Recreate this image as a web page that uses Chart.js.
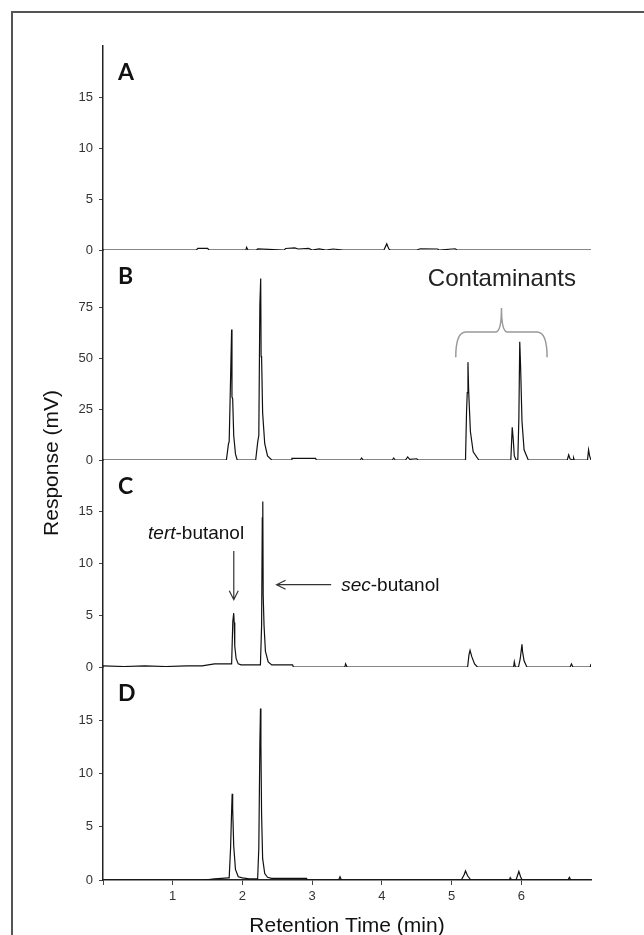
<!DOCTYPE html>
<html lang="en">
<head>
<meta charset="UTF-8">
<title>Chromatograms A-D</title>
<script src="https://cdn.jsdelivr.net/npm/chart.js@4.4.1/dist/chart.umd.min.js"></script>
<style>
  body { margin: 0; background: #fff; }
  #wrap { position: relative; width: 644px; height: 935px; overflow: hidden; }
  #frame { position: absolute; left: 11px; top: 11px; width: 700px; height: 1000px; border: 2px solid #555; }
  canvas { position: absolute; left: 0; top: 0; }
</style>
</head>
<body>
<div id="wrap">
  <div id="frame"></div>
  <canvas id="gc" width="644" height="935"></canvas>
</div>
<script>
// retention time (min) / response (mV), one pair per panel
const aTime = [0, 1.34, 1.36, 1.5, 1.52, 2.05, 2.06, 2.08, 2.2, 2.22, 2.6, 2.62, 2.75, 2.8, 2.95, 3.0, 3.1, 3.2, 3.3, 3.45, 4.03, 4.07, 4.1, 4.12, 4.5, 4.55, 4.8, 4.82, 5.05, 5.08, 7];
const aResp = [0, 0, 0.15, 0.15, 0, 0, 0.25, 0, 0, 0.1, 0, 0.15, 0.2, 0.1, 0.15, 0, 0.1, 0, 0.1, 0, 0, 0.6, 0.1, 0, 0, 0.12, 0.1, 0, 0.12, 0, 0];

const bTime = [0, 1.77, 1.80, 1.81, 1.83, 1.845, 1.85, 1.86, 1.875, 1.90, 1.925, 2.19, 2.22, 2.235, 2.25, 2.262, 2.268, 2.275, 2.29, 2.32, 2.36, 2.42, 2.70, 2.71, 3.05, 3.06, 3.69, 3.71, 3.73, 4.15, 4.17, 4.19, 4.34, 4.37, 4.40, 4.5, 4.52, 5.20, 5.215, 5.225, 5.235, 5.245, 5.27, 5.31, 5.39, 5.85, 5.87, 5.885, 5.9, 5.925, 5.95, 5.965, 5.978, 5.99, 6.01, 6.04, 6.1, 6.66, 6.68, 6.70, 6.745, 6.75, 6.76, 6.95, 6.965, 6.98, 7];
const bResp = [0, 0, 8, 9, 40, 64, 31, 30, 12, 3, 0, 0, 9, 12, 76, 89, 51, 50, 23, 8, 2, 0, 0, 0.8, 0.8, 0, 0, 1, 0, 0, 1, 0, 0, 1.5, 0.3, 0.6, 0, 0, 24, 33, 48, 34, 14, 4, 0, 0, 16, 10, 2, 0, 0, 20, 58, 46, 19, 5, 0, 0, 2.5, 0.5, 0, 1, 0, 0, 5, 2, 0];

const cTime = [0, 0.3, 0.6, 0.9, 1.2, 1.42, 1.6, 1.8, 1.845, 1.862, 1.875, 1.882, 1.89, 1.91, 1.94, 1.98, 2.2, 2.258, 2.275, 2.285, 2.292, 2.298, 2.31, 2.33, 2.37, 2.42, 2.72, 2.73, 3.47, 3.48, 3.50, 5.23, 5.25, 5.265, 5.29, 5.33, 5.37, 5.89, 5.9, 5.915, 5.96, 5.985, 6.01, 6.018, 6.04, 6.08, 6.70, 6.72, 6.74, 6.99, 7];
const cResp = [0.1, 0.05, 0.1, 0.05, 0.1, 0.1, 0.3, 0.3, 0.3, 4.4, 5.2, 4.3, 2, 0.8, 0.3, 0.2, 0.2, 0.2, 4, 14.4, 16, 6.9, 4, 1.5, 0.5, 0.2, 0.2, 0, 0, 0.3, 0, 0, 1.2, 1.6, 1, 0.3, 0, 0, 0.5, 0, 0, 0.8, 2.2, 1.5, 0.6, 0, 0, 0.3, 0, 0, 0.3];

const dTime = [0, 1.45, 1.6, 1.7, 1.8, 1.81, 1.83, 1.845, 1.853, 1.86, 1.875, 1.9, 1.94, 2.0, 2.1, 2.218, 2.235, 2.25, 2.259, 2.265, 2.275, 2.29, 2.32, 2.36, 2.42, 2.92, 2.93, 3.38, 3.4, 3.42, 5.14, 5.18, 5.2, 5.23, 5.276, 5.83, 5.84, 5.85, 5.924, 5.945, 5.965, 5.99, 6.012, 6.67, 6.69, 6.71, 7];
const dResp = [0, 0, 0.1, 0.15, 0.2, 0.2, 3, 6.5, 8.1, 6.7, 3.2, 1, 0.3, 0.2, 0.1, 0.1, 3, 12.7, 16.1, 12.8, 6.1, 2, 0.6, 0.25, 0.15, 0.15, 0, 0, 0.3, 0, 0, 0.5, 0.85, 0.4, 0, 0, 0.2, 0, 0, 0.4, 0.8, 0.3, 0, 0, 0.25, 0, 0];

const xTicks = [0, 1, 2, 3, 4, 5, 6];
const yTicksA = [0, 5, 10, 15];
const yTicksB = [0, 25, 50, 75];
const yTicksC = [0, 5, 10, 15];
const yTicksD = [0, 5, 10, 15];
const yMax = [20, 103, 20, 20];
const panelNames = ['A', 'B', 'C', 'D'];

const tickFont = { family: "'Liberation Sans', Arial, sans-serif", size: 13 };

function pts(t, r) {
    return t.map((v, i) => ({ x: v, y: r[i] }));
}

function trace(t, r, axis) {
    return { data: pts(t, r), yAxisID: axis, borderColor: '#111', borderWidth: 1.2,
             pointRadius: 0, tension: 0, fill: false };
}

function yScale(ticks, max, weight) {
    return {
        type: 'linear', position: 'left', stack: 'panels', stackWeight: weight,
        min: 0, max: max,
        afterBuildTicks: s => { s.ticks = ticks.map(v => ({ value: v })); },
        afterFit: s => { s.width = 45; },
        grid: { display: true, drawOnChartArea: false, drawTicks: true, tickLength: 4, color: '#444' },
        border: { display: true, color: '#222', width: 1.5 },
        ticks: { font: tickFont, color: '#333', padding: 6 }
    };
}

// letters, captions, arrows, brace, axis titles
const notes = {
    id: 'notes',
    afterDraw(chart) {
        const ctx = chart.ctx;
        const x = chart.scales.x;
        const sc = chart.scales;
        const area = chart.chartArea;
        ctx.save();
        ctx.fillStyle = '#111';
        ctx.textAlign = 'left';
        ctx.textBaseline = 'alphabetic';
        ctx.font = "bold 23px Lato, 'DejaVu Sans', sans-serif";
        ['yA', 'yB', 'yC', 'yD'].forEach((id, i) => {
            ctx.fillText(panelNames[i], area.left + 15, sc[id].top + 34);
        });

        // Contaminants + brace
        ctx.font = "24px 'Liberation Sans', Arial, sans-serif";
        ctx.fillStyle = '#222';
        ctx.fillText('Contaminants', x.getPixelForValue(4.66), sc.yB.getPixelForValue(85.5));
        const bx0 = x.getPixelForValue(5.06), bx1 = x.getPixelForValue(6.37), bxm = x.getPixelForValue(5.716);
        const by0 = sc.yB.getPixelForValue(50.4), by1 = sc.yB.getPixelForValue(62.8), by2 = sc.yB.getPixelForValue(74.6);
        ctx.strokeStyle = '#999';
        ctx.lineWidth = 1.5;
        ctx.beginPath();
        ctx.moveTo(bx0, by0);
        ctx.quadraticCurveTo(bx0, by1, bx0 + 10, by1);
        ctx.lineTo(bxm - 6, by1);
        ctx.quadraticCurveTo(bxm, by1, bxm, by2);
        ctx.quadraticCurveTo(bxm, by1, bxm + 6, by1);
        ctx.lineTo(bx1 - 10, by1);
        ctx.quadraticCurveTo(bx1, by1, bx1, by0);
        ctx.stroke();

        // tert-butanol
        ctx.fillStyle = '#111';
        const yc = sc.yC;
        let tx = x.getPixelForValue(0.646), ty = yc.getPixelForValue(12.4);
        ctx.font = "italic 19px 'Liberation Sans', Arial, sans-serif";
        ctx.fillText('tert', tx, ty);
        tx += ctx.measureText('tert').width;
        ctx.font = "19px 'Liberation Sans', Arial, sans-serif";
        ctx.fillText('-butanol', tx, ty);

        // sec-butanol
        tx = x.getPixelForValue(3.417); ty = yc.getPixelForValue(7.36);
        ctx.font = "italic 19px 'Liberation Sans', Arial, sans-serif";
        ctx.fillText('sec', tx, ty);
        tx += ctx.measureText('sec').width;
        ctx.font = "19px 'Liberation Sans', Arial, sans-serif";
        ctx.fillText('-butanol', tx, ty);

        // arrows
        ctx.strokeStyle = '#333';
        ctx.lineWidth = 1.2;
        const ax = x.getPixelForValue(1.876), ay0 = yc.getPixelForValue(11.2), ay1 = yc.getPixelForValue(6.5);
        ctx.beginPath();
        ctx.moveTo(ax, ay0); ctx.lineTo(ax, ay1);
        ctx.moveTo(ax - 4.5, ay1 - 9); ctx.lineTo(ax, ay1); ctx.lineTo(ax + 4.5, ay1 - 9);
        ctx.stroke();
        const hy = yc.getPixelForValue(7.95), hx0 = x.getPixelForValue(3.273), hx1 = x.getPixelForValue(2.49);
        ctx.beginPath();
        ctx.moveTo(hx0, hy); ctx.lineTo(hx1, hy);
        ctx.moveTo(hx1 + 9, hy - 4.5); ctx.lineTo(hx1, hy); ctx.lineTo(hx1 + 9, hy + 4.5);
        ctx.stroke();

        // axis titles
        ctx.fillStyle = '#111';
        ctx.font = "21px 'Liberation Sans', Arial, sans-serif";
        ctx.textAlign = 'center';
        ctx.fillText('Retention Time (min)', (area.left + area.right) / 2, 932);
        ctx.translate(52, 463);
        ctx.rotate(-Math.PI / 2);
        ctx.textBaseline = 'middle';
        ctx.fillText('Response (mV)', 0, 0);
        ctx.restore();
    }
};

new Chart(document.getElementById('gc'), {
    type: 'line',
    data: {
        datasets: [
            trace(aTime, aResp, 'yA'),
            trace(bTime, bResp, 'yB'),
            trace(cTime, cResp, 'yC'),
            trace(dTime, dResp, 'yD')
        ]
    },
    options: {
        responsive: false,
        animation: false,
        layout: { padding: { left: 58, right: 53, top: 46, bottom: 0 } },
        plugins: { legend: { display: false }, tooltip: { enabled: false } },
        scales: {
            x: {
                type: 'linear', min: 0, max: 7,
                afterBuildTicks: s => { s.ticks = xTicks.map(v => ({ value: v })); },
                afterFit: s => { s.height = 55; },
                grid: { display: true, drawOnChartArea: false, drawTicks: true, tickLength: 5, color: '#444' },
                border: { display: true, color: '#222', width: 1.5 },
                ticks: { font: tickFont, color: '#333', padding: 4, maxRotation: 0,
                         callback: v => (v === 0 ? '' : v) }
            },
            // left-stacked axes are laid out last-first, so D is listed first
            yD: yScale(yTicksD, yMax[3], 213),
            yC: yScale(yTicksC, yMax[2], 207),
            yB: yScale(yTicksB, yMax[1], 210),
            yA: yScale(yTicksA, yMax[0], 204)
        }
    },
    plugins: [notes]
});
</script>
</body>
</html>
